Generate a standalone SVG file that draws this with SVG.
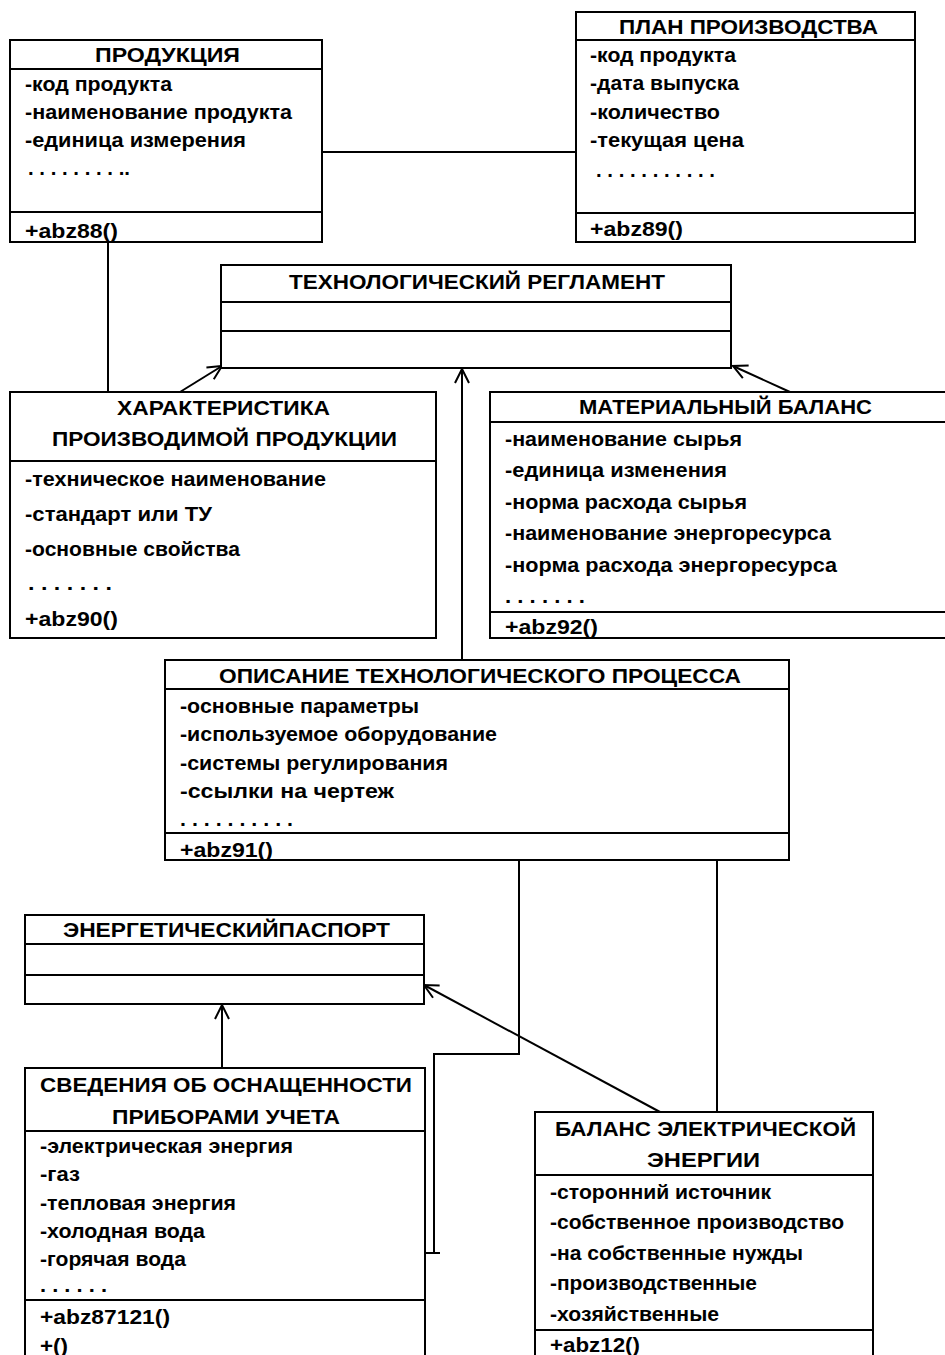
<svg xmlns="http://www.w3.org/2000/svg" width="945" height="1355" viewBox="0 0 945 1355">
<style>
.box{fill:#fff;stroke:#000;stroke-width:2}
.div{stroke:#000;stroke-width:2}
.t{font-family:"Liberation Sans",Arial,sans-serif;font-weight:bold;font-size:21px;fill:#000}
.c{stroke:#000;stroke-width:2;fill:none}
</style>
<defs>
<marker id="arr" markerUnits="userSpaceOnUse" markerWidth="20" markerHeight="20" refX="15" refY="8" viewBox="0 0 20 16" orient="auto">
<path d="M1,1 L15,8 L1,15" fill="none" stroke="#000" stroke-width="2"/>
</marker>
</defs>
<rect width="945" height="1355" fill="#fff"/>

<g id="connectors">
<line class="c" x1="322" y1="152" x2="576" y2="152"/>
<line class="c" x1="108" y1="242" x2="108" y2="392"/>
<line class="c" x1="180" y1="392" x2="222" y2="366" marker-end="url(#arr)"/>
<line class="c" x1="790" y1="392" x2="733" y2="366" marker-end="url(#arr)"/>
<line class="c" x1="462" y1="660" x2="462" y2="369" marker-end="url(#arr)"/>
<polyline class="c" points="519,860 519,1054 434,1054 434,1253"/>
<line class="c" x1="422" y1="1253" x2="440" y2="1253"/>
<line class="c" x1="717" y1="860" x2="717" y2="1112"/>
<line class="c" x1="222" y1="1068" x2="222" y2="1005" marker-end="url(#arr)"/>
<line class="c" x1="660" y1="1112" x2="424" y2="985" marker-end="url(#arr)"/>
</g>

<g id="produkciya">
<rect class="box" x="10" y="40" width="312" height="202"/>
<line class="div" x1="10" y1="69" x2="322" y2="69"/>
<line class="div" x1="10" y1="212" x2="322" y2="212"/>
<text class="t" x="95" y="62" textLength="145" lengthAdjust="spacingAndGlyphs">ПРОДУКЦИЯ</text>
<text class="t" x="25" y="91" textLength="147" lengthAdjust="spacingAndGlyphs">-код продукта</text>
<text class="t" x="25" y="119" textLength="267" lengthAdjust="spacingAndGlyphs">-наименование продукта</text>
<text class="t" x="25" y="147" textLength="221" lengthAdjust="spacingAndGlyphs">-единица измерения</text>
<text class="t" x="28" y="175" textLength="102" lengthAdjust="spacingAndGlyphs">. . . . . . . . ..</text>
<text class="t" x="25" y="238" textLength="93" lengthAdjust="spacingAndGlyphs">+abz88()</text>
</g>

<g id="plan">
<rect class="box" x="576" y="12" width="339" height="230"/>
<line class="div" x1="576" y1="40" x2="915" y2="40"/>
<line class="div" x1="576" y1="213" x2="915" y2="213"/>
<text class="t" x="619" y="34" textLength="259" lengthAdjust="spacingAndGlyphs">ПЛАН ПРОИЗВОДСТВА</text>
<text class="t" x="590" y="62" textLength="146" lengthAdjust="spacingAndGlyphs">-код продукта</text>
<text class="t" x="590" y="90" textLength="149" lengthAdjust="spacingAndGlyphs">-дата выпуска</text>
<text class="t" x="590" y="119" textLength="130" lengthAdjust="spacingAndGlyphs">-количество</text>
<text class="t" x="590" y="147" textLength="154" lengthAdjust="spacingAndGlyphs">-текущая цена</text>
<text class="t" x="596" y="177" textLength="119" lengthAdjust="spacingAndGlyphs">. . . . . . . . . . .</text>
<text class="t" x="590" y="236" textLength="93" lengthAdjust="spacingAndGlyphs">+abz89()</text>
</g>

<g id="reglament">
<rect class="box" x="221" y="265" width="510" height="103"/>
<line class="div" x1="221" y1="302" x2="731" y2="302"/>
<line class="div" x1="221" y1="331" x2="731" y2="331"/>
<text class="t" x="289" y="289" textLength="376" lengthAdjust="spacingAndGlyphs">ТЕХНОЛОГИЧЕСКИЙ РЕГЛАМЕНТ</text>
</g>

<g id="harakteristika">
<rect class="box" x="10" y="392" width="426" height="246"/>
<line class="div" x1="10" y1="461" x2="436" y2="461"/>
<text class="t" x="117" y="415" textLength="213" lengthAdjust="spacingAndGlyphs">ХАРАКТЕРИСТИКА</text>
<text class="t" x="52" y="446" textLength="345" lengthAdjust="spacingAndGlyphs">ПРОИЗВОДИМОЙ ПРОДУКЦИИ</text>
<text class="t" x="25" y="486" textLength="301" lengthAdjust="spacingAndGlyphs">-техническое наименование</text>
<text class="t" x="25" y="521" textLength="187" lengthAdjust="spacingAndGlyphs">-стандарт или ТУ</text>
<text class="t" x="25" y="556" textLength="215" lengthAdjust="spacingAndGlyphs">-основные свойства</text>
<text class="t" x="28" y="590" textLength="84" lengthAdjust="spacingAndGlyphs">. . . . . . .</text>
<text class="t" x="25" y="626" textLength="93" lengthAdjust="spacingAndGlyphs">+abz90()</text>
</g>

<g id="material">
<rect class="box" x="490" y="392" width="470" height="246"/>
<line class="div" x1="490" y1="422" x2="945" y2="422"/>
<line class="div" x1="490" y1="612" x2="945" y2="612"/>
<text class="t" x="579" y="414" textLength="293" lengthAdjust="spacingAndGlyphs">МАТЕРИАЛЬНЫЙ БАЛАНС</text>
<text class="t" x="505" y="446" textLength="237" lengthAdjust="spacingAndGlyphs">-наименование сырья</text>
<text class="t" x="505" y="477" textLength="222" lengthAdjust="spacingAndGlyphs">-единица изменения</text>
<text class="t" x="505" y="509" textLength="242" lengthAdjust="spacingAndGlyphs">-норма расхода сырья</text>
<text class="t" x="505" y="540" textLength="326" lengthAdjust="spacingAndGlyphs">-наименование энергоресурса</text>
<text class="t" x="505" y="572" textLength="332" lengthAdjust="spacingAndGlyphs">-норма расхода энергоресурса</text>
<text class="t" x="505" y="603" textLength="80" lengthAdjust="spacingAndGlyphs">. . . . . . .</text>
<text class="t" x="505" y="634" textLength="93" lengthAdjust="spacingAndGlyphs">+abz92()</text>
</g>

<g id="opisanie">
<rect class="box" x="165" y="660" width="624" height="200"/>
<line class="div" x1="165" y1="689" x2="789" y2="689"/>
<line class="div" x1="165" y1="833" x2="789" y2="833"/>
<text class="t" x="219" y="683" textLength="522" lengthAdjust="spacingAndGlyphs">ОПИСАНИЕ ТЕХНОЛОГИЧЕСКОГО ПРОЦЕССА</text>
<text class="t" x="180" y="713" textLength="239" lengthAdjust="spacingAndGlyphs">-основные параметры</text>
<text class="t" x="180" y="741" textLength="317" lengthAdjust="spacingAndGlyphs">-используемое оборудование</text>
<text class="t" x="180" y="770" textLength="268" lengthAdjust="spacingAndGlyphs">-системы регулирования</text>
<text class="t" x="180" y="798" textLength="214" lengthAdjust="spacingAndGlyphs">-ссылки на чертеж</text>
<text class="t" x="180" y="826" textLength="113" lengthAdjust="spacingAndGlyphs">. . . . . . . . . .</text>
<text class="t" x="180" y="857" textLength="93" lengthAdjust="spacingAndGlyphs">+abz91()</text>
</g>

<g id="energopasport">
<rect class="box" x="25" y="915" width="399" height="89"/>
<line class="div" x1="25" y1="944" x2="424" y2="944"/>
<line class="div" x1="25" y1="975" x2="424" y2="975"/>
<text class="t" x="63" y="937" textLength="327" lengthAdjust="spacingAndGlyphs">ЭНЕРГЕТИЧЕСКИЙПАСПОРТ</text>
</g>

<g id="svedeniya">
<rect class="box" x="25" y="1068" width="400" height="300"/>
<line class="div" x1="25" y1="1131" x2="425" y2="1131"/>
<line class="div" x1="25" y1="1300" x2="425" y2="1300"/>
<text class="t" x="40" y="1092" textLength="372" lengthAdjust="spacingAndGlyphs">СВЕДЕНИЯ ОБ ОСНАЩЕННОСТИ</text>
<text class="t" x="112" y="1124" textLength="228" lengthAdjust="spacingAndGlyphs">ПРИБОРАМИ УЧЕТА</text>
<text class="t" x="40" y="1153" textLength="253" lengthAdjust="spacingAndGlyphs">-электрическая энергия</text>
<text class="t" x="40" y="1181" textLength="40" lengthAdjust="spacingAndGlyphs">-газ</text>
<text class="t" x="40" y="1210" textLength="196" lengthAdjust="spacingAndGlyphs">-тепловая энергия</text>
<text class="t" x="40" y="1238" textLength="165" lengthAdjust="spacingAndGlyphs">-холодная вода</text>
<text class="t" x="40" y="1266" textLength="146" lengthAdjust="spacingAndGlyphs">-горячая вода</text>
<text class="t" x="40" y="1292" textLength="67" lengthAdjust="spacingAndGlyphs">. . . . . .</text>
<text class="t" x="40" y="1324" textLength="130" lengthAdjust="spacingAndGlyphs">+abz87121()</text>
<text class="t" x="40" y="1353" textLength="28" lengthAdjust="spacingAndGlyphs">+()</text>
</g>

<g id="balans">
<rect class="box" x="535" y="1112" width="338" height="260"/>
<line class="div" x1="535" y1="1175" x2="873" y2="1175"/>
<line class="div" x1="535" y1="1330" x2="873" y2="1330"/>
<text class="t" x="555" y="1136" textLength="301" lengthAdjust="spacingAndGlyphs">БАЛАНС ЭЛЕКТРИЧЕСКОЙ</text>
<text class="t" x="647" y="1167" textLength="113" lengthAdjust="spacingAndGlyphs">ЭНЕРГИИ</text>
<text class="t" x="550" y="1199" textLength="221" lengthAdjust="spacingAndGlyphs">-сторонний источник</text>
<text class="t" x="550" y="1229" textLength="294" lengthAdjust="spacingAndGlyphs">-собственное производство</text>
<text class="t" x="550" y="1260" textLength="253" lengthAdjust="spacingAndGlyphs">-на собственные нужды</text>
<text class="t" x="550" y="1290" textLength="207" lengthAdjust="spacingAndGlyphs">-производственные</text>
<text class="t" x="550" y="1321" textLength="169" lengthAdjust="spacingAndGlyphs">-хозяйственные</text>
<text class="t" x="550" y="1352" textLength="90" lengthAdjust="spacingAndGlyphs">+abz12()</text>
</g>
</svg>
